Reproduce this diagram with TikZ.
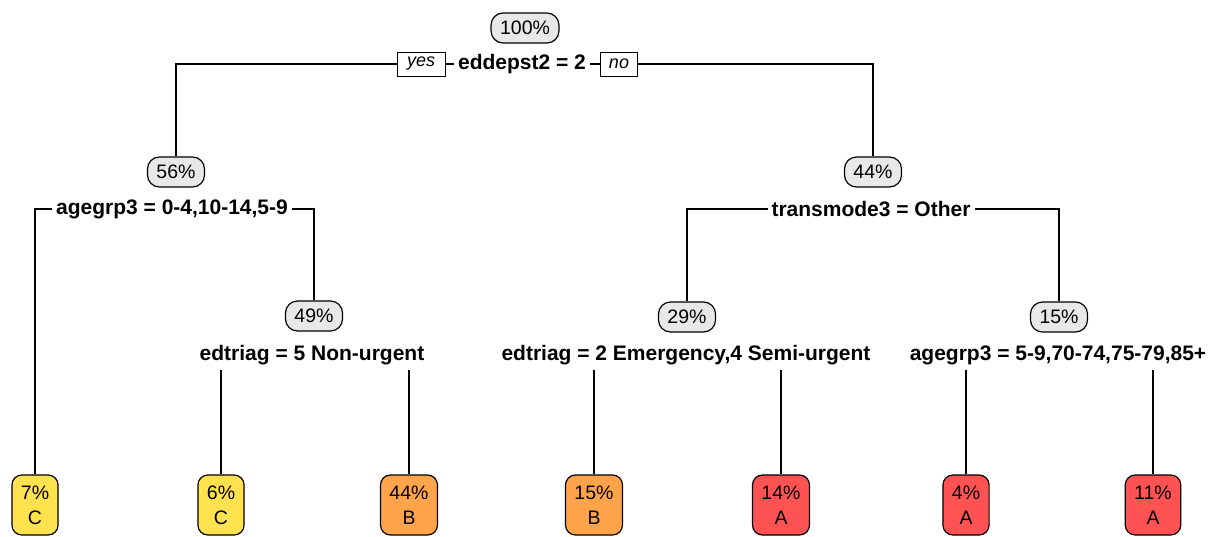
\documentclass[tikz,border=0pt]{standalone}
\usepackage{fontspec}
\setmainfont{Liberation Sans}
\usetikzlibrary{backgrounds}
\definecolor{ovalgray}{RGB}{232,232,232}
\definecolor{leafC}{RGB}{255,226,78}
\definecolor{leafB}{RGB}{255,164,74}
\definecolor{leafA}{RGB}{255,82,82}
\tikzset{
  pct/.style={draw=black, line width=1.2pt, fill=ovalgray, rounded corners=12pt,
    minimum height=30pt, inner xsep=9pt, inner ysep=0pt,
    font=\fontsize{19.5}{24}\selectfont},
  leafbox/.style={draw=black, line width=1.2pt, fill=#1, rounded corners=10pt,
    minimum height=60pt, inner xsep=9pt, inner ysep=0pt, align=center,
    font=\fontsize{19.5}{25}\selectfont},
  lbl/.style={fill=white, inner xsep=4pt, inner ysep=5pt,
    font=\fontsize{21}{24}\selectfont\bfseries},
  yn/.style={draw=black, line width=1pt, fill=white, minimum height=24pt,
    minimum width=40pt, inner sep=2pt, font=\fontsize{18}{22}\selectfont\itshape},
  conn/.style={draw=black, line width=1.5pt}
}
\begin{document}
\begin{tikzpicture}[x=1pt, y=-1pt]
\useasboundingbox (0,0) rectangle (1217,536);
% internal nodes
\node[pct] (n100) at (525,28) {100\%};
\node[lbl] (s0) at (522,64) {eddepst2 = 2};
\node[pct] (n56) at (176,172) {56\%};
\node[lbl] (s1) at (172,209) {agegrp3 = 0-4,10-14,5-9};
\node[pct] (n44) at (873,172) {44\%};
\node[lbl] (s2) at (871,209) {transmode3 = Other};
\node[pct] (n49) at (314,316) {49\%};
\node[lbl] (s3) at (312,355) {edtriag = 5 Non-urgent};
\node[pct] (n29) at (687,317) {29\%};
\node[lbl] (s4) at (686,355) {edtriag = 2 Emergency,4 Semi-urgent};
\node[pct] (n15) at (1059,317) {15\%};
\node[lbl] (s5) at (1058,355) {agegrp3 = 5-9,70-74,75-79,85+};
% leaves
\node[leafbox=leafC] (L1) at (35,505) {7\%\\C};
\node[leafbox=leafC] (L2) at (221,505) {6\%\\C};
\node[leafbox=leafB] (L3) at (409,505) {44\%\\B};
\node[leafbox=leafB] (L4) at (594,505) {15\%\\B};
\node[leafbox=leafA] (L5) at (781,505) {14\%\\A};
\node[leafbox=leafA] (L6) at (966,505) {4\%\\A};
\node[leafbox=leafA] (L7) at (1153,505) {11\%\\A};
% yes / no
\node[yn, minimum width=48pt] (yes) at (421,64) {yes};
\node[yn, minimum width=37pt] (no) at (619,64) {no};
% connectors
\begin{scope}[on background layer]
\draw[conn] (n56.north) |- (s0.center) -| (n44.north);
\draw[conn] (L1.north) |- (s1.center) -| (n49.north);
\draw[conn] (n29.north) |- (s2.center) -| (n15.north);
\draw[conn] (L2.north) |- (s3.center) -| (L3.north);
\draw[conn] (L4.north) |- (s4.center) -| (L5.north);
\draw[conn] (L6.north) |- (s5.center) -| (L7.north);
\end{scope}
\end{tikzpicture}
\end{document}
